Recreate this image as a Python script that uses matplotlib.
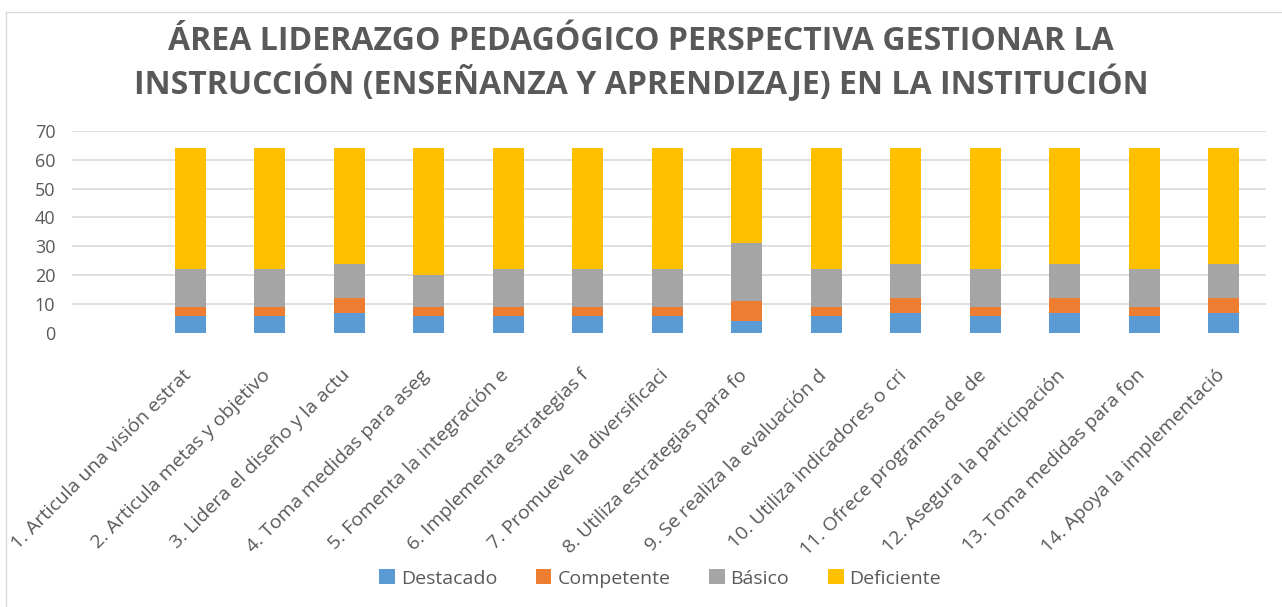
import numpy as np
from matplotlib import pyplot as plt
from matplotlib.patches import Rectangle
from matplotlib.transforms import ScaledTranslation

plt.rcParams['font.family'] = ['Open Sans', 'DejaVu Sans']

categories = [
    "1. Articula una visión estrat",
    "2. Articula metas y objetivo",
    "3. Lidera el diseño y la actu",
    "4. Toma medidas para aseg",
    "5. Fomenta la integración e",
    "6. Implementa estrategias f",
    "7. Promueve la diversificaci",
    "8. Utiliza estrategias para fo",
    "9. Se realiza la evaluación d",
    "10. Utiliza indicadores o cri",
    "11. Ofrece programas de de",
    "12. Asegura la participación",
    "13. Toma medidas para fon",
    "14. Apoya la implementació",
]
destacado = [6, 6, 7, 6, 6, 6, 6, 4, 6, 7, 6, 7, 6, 7]
competente = [3, 3, 5, 3, 3, 3, 3, 7, 3, 5, 3, 5, 3, 5]
basico = [13, 13, 12, 11, 13, 13, 13, 20, 13, 12, 13, 12, 13, 12]
deficiente = [42, 42, 40, 44, 42, 42, 42, 33, 42, 40, 42, 40, 42, 40]

series = [("Destacado", destacado, '#5B9BD5'),
          ("Competente", competente, '#ED7D31'),
          ("Básico", basico, '#A5A5A5'),
          ("Deficiente", deficiente, '#FFC000')]

GREY = '#595959'

fig = plt.figure(figsize=(12.82, 6.07), dpi=100)
ax = fig.add_axes([0.0562, 0.4517, 0.9313, 0.3325])

x = np.arange(len(categories))
bottom = np.zeros(len(categories))
for name, vals, color in series:
    ax.bar(x, vals, 0.39, bottom=bottom, color=color, label=name, zorder=2)
    bottom += np.array(vals)

ax.set_ylim(0, 70)
ax.set_yticks(range(0, 71, 10))
ax.set_xlim(-1.485, 13.53)
ax.set_xticks(x)
ax.set_xticklabels(categories, rotation=45, ha='right', va='top',
                   rotation_mode='anchor', fontsize=14, color=GREY)
ax.tick_params(axis='x', length=0, pad=24)
ax.tick_params(axis='y', length=0, pad=12, labelsize=13, labelcolor=GREY)
# excel puts the end of each label a bit left of the bar centre
shift = ScaledTranslation(-6 / 72, 0, fig.dpi_scale_trans)
for label in ax.get_xticklabels():
    label.set_transform(label.get_transform() + shift)

ax.yaxis.grid(True, color='#D9D9D9', linewidth=1.2, zorder=0)
ax.get_ygridlines()[0].set_visible(False)
for s in ax.spines.values():
    s.set_visible(False)

fig.text(0.5, 0.932, "ÁREA LIDERAZGO PEDAGÓGICO PERSPECTIVA GESTIONAR LA",
         ha='center', va='center', fontsize=23, fontweight='bold', color=GREY)
fig.text(0.5, 0.862, "INSTRUCCIÓN (ENSEÑANZA Y APRENDIZAJE) EN LA INSTITUCIÓN",
         ha='center', va='center', fontsize=23, fontweight='bold', color=GREY)

fig.legend(loc='center', bbox_to_anchor=(0.515, 0.047), ncol=4, frameon=False,
           fontsize=14, handlelength=0.8, handleheight=0.8, handletextpad=0.3,
           columnspacing=2.0, labelcolor=GREY)

fig.patches.append(Rectangle((0.005, -0.1), 1.2, 1.08, transform=fig.transFigure,
                             fill=False, edgecolor='#D9D9D9', linewidth=1))

fig.savefig('out.png', dpi=100)
